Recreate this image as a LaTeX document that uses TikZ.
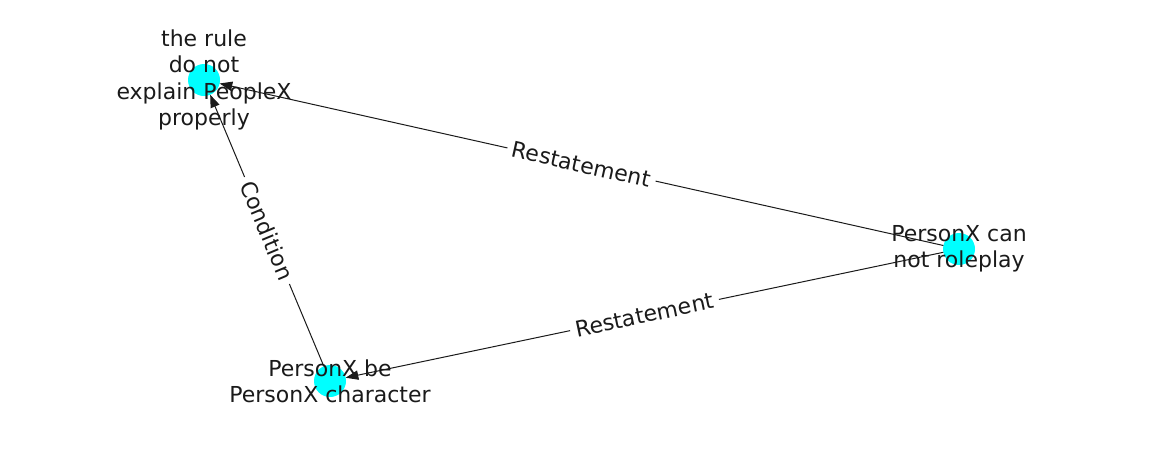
\documentclass[tikz,border=0pt]{standalone}
\usepackage{fontspec}
\setmainfont{DejaVu Sans}
\usetikzlibrary{arrows.meta}
\definecolor{nodecyan}{RGB}{0,255,255}
\definecolor{ink}{RGB}{26,26,26}
\begin{document}
\begin{tikzpicture}[x=0.75pt,y=-0.75pt,
  vert/.style={circle,fill=nodecyan,draw=none,minimum size=24pt,inner sep=0pt,outer sep=0pt},
  vlabel/.style={align=center,font=\fontsize{16.5pt}{19.8pt}\selectfont,text=ink,inner sep=0pt},
  edge/.style={draw=ink,line width=0.75pt,-{Triangle[length=9.5pt,width=7pt]}},
  elabel/.style={fill=white,sloped,font=\fontsize{16.5pt}{19.8pt}\selectfont,text=ink,inner sep=4pt}]
\useasboundingbox (0,0) rectangle (1162,462);
\node[vert] (a) at (204,80) {};
\node[vert] (b) at (959,249) {};
\node[vert] (c) at (330,381) {};
\draw[edge] (b) -- node[elabel] {Restatement} (a);
\draw[edge] (b) -- node[elabel] {Restatement} (c);
\draw[edge] (c) -- node[elabel] {Condition} (a);
\node[vlabel] (la) at (204,80) {the rule\\do not\\explain PeopleX\\properly};
\node[vlabel] (lb) at (959,249) {PersonX can\\not roleplay};
\node[vlabel] (lc) at (330,381) {PersonX be\\PersonX character};
\end{tikzpicture}
\end{document}
